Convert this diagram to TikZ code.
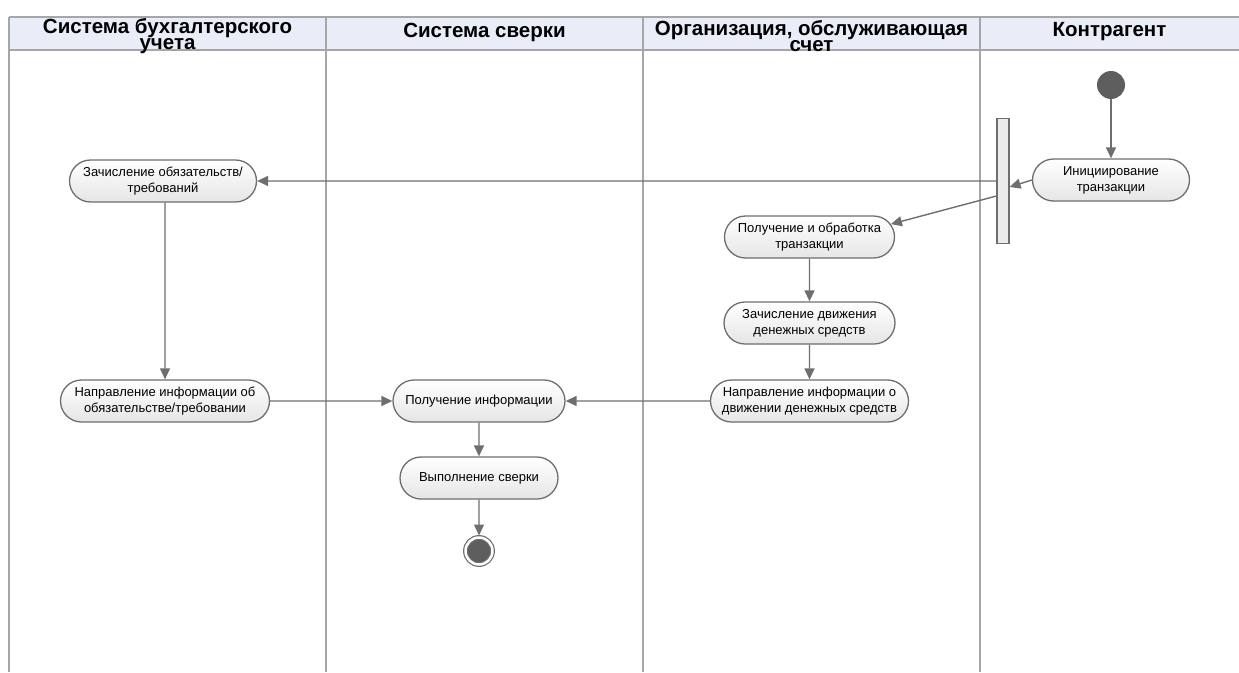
\documentclass[tikz,border=0pt]{standalone}
\usepackage{fontspec}
\setmainfont{Liberation Sans}
\usetikzlibrary{shapes.misc,arrows.meta}
\definecolor{lane}{HTML}{A6A6A6}
\definecolor{head}{HTML}{E8EDF7}
\definecolor{edge}{HTML}{6E6E6E}
\definecolor{dot}{HTML}{5E5E5E}

\begin{document}
\begin{tikzpicture}[x=1pt,y=-1pt]
\tikzstyle{act}=[rounded rectangle, draw=edge, line width=1.3pt,
                 top color=white, bottom color=black!10,
                 minimum height=42pt, inner sep=2pt, align=center,
                 font=\fontsize{13}{16}\selectfont]
\tikzstyle{flow}=[draw=edge, line width=1.4pt,
                  -{Triangle[length=11pt,width=10pt]}]
\tikzstyle{title}=[font=\fontsize{20.5}{15.5}\selectfont\bfseries, align=center, inner sep=0pt]
\tikzstyle{lanes}=[lane, line width=1.3pt]
\useasboundingbox (0,0) rectangle (1239,672);
% swimlanes
\fill[head] (9,17) rectangle (1239,50);
\draw[lanes] (9,17) -- (1239,17) (9,50) -- (1239,50);
\foreach \x in {9,326,643,980}{\draw[lanes] (\x,17) -- (\x,672);}
\node[title] (h1) at (167.5,36) {Система бухгалтерского\\учета};
\node[title] (h2) at (484.5,32) {Система сверки};
\node[title] (h3) at (811.5,36) {Организация, обслуживающая\\счет};
\node[title] (h4) at (1109.5,32) {Контрагент};
% activities
\node[circle, fill=dot, minimum size=28pt, inner sep=0] (start) at (1111,85) {};
\node[act, minimum width=161pt] (init) at (1111,180) {Инициирование\\транзакции};
\node[rectangle, draw=edge, line width=1.2pt, fill=black!8, minimum width=12pt,
      minimum height=125pt, inner sep=0] (bar) at (1003,181) {};
\node[act, minimum width=191pt] (accr) at (163,181) {Зачисление обязательств/\\требований};
\node[act, minimum width=213pt] (send) at (165,401) {Направление информации об\\обязательстве/требовании};
\node[act, minimum width=176pt] (recv) at (479,401) {Получение информации};
\node[act, minimum width=162pt] (check) at (479,478) {Выполнение сверки};
\node[circle, fill=dot, draw=edge, double=white, double distance=2.5pt,
      line width=1.2pt, minimum size=27pt, inner sep=0, outer sep=2pt] (stop) at (479,551) {};
\node[act, minimum width=174pt] (proc) at (809.5,237) {Получение и обработка\\транзакции};
\node[act, minimum width=175pt] (cash) at (809.5,323) {Зачисление движения\\денежных средств};
\node[act, minimum width=202pt] (info) at (809.5,401) {Направление информации о\\движении денежных средств};
% transitions
\foreach \i/\j in {start/init,bar/accr,send/recv,info/recv,recv/check,check/stop,proc/cash,cash/info}{\draw[flow] (\i) -- (\j);}
\draw[flow] (accr.south -| 165,0) -- (send);
\draw[flow] (init.west) -- ([yshift=-6pt]bar.east);
\draw[flow] ([yshift=-15pt]bar.west) -- (proc.9);
\end{tikzpicture}
\end{document}
